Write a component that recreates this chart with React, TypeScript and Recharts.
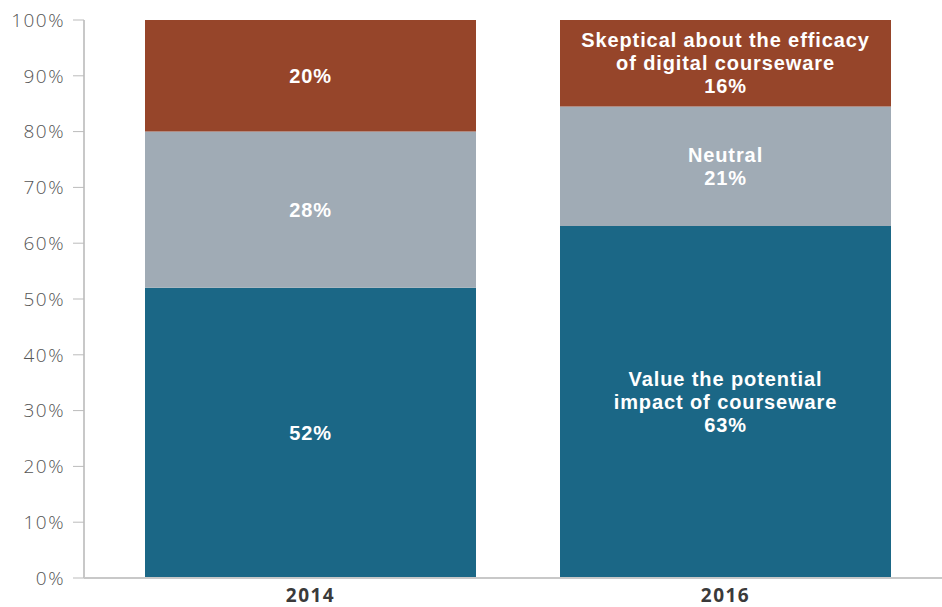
import { BarChart, Bar, XAxis, YAxis, LabelList } from "recharts";

const years = ["2014", "2016"];
const valueShares = [52, 63.1];
const neutralShares = [28, 21.4];
const skepticalShares = [20, 15.5];
const valueLabel = ["", "Value the potential|impact of courseware"];
const neutralLabel = ["", "Neutral"];
const skepticalLabel = ["", "Skeptical about the efficacy|of digital courseware"];
const yTicks = [0, 10, 20, 30, 40, 50, 60, 70, 80, 90, 100];

const data = years.map((y, i) => ({
  year: y,
  value: valueShares[i],
  neutral: neutralShares[i],
  skeptical: skepticalShares[i],
  valueText: valueLabel[i],
  neutralText: neutralLabel[i],
  skepticalText: skepticalLabel[i],
}));

const font = "'Open Sans', 'Liberation Sans', sans-serif";
const labelFont = "'Liberation Sans', Arial, sans-serif";

function makeLabel(textKey: string, valKey: string) {
  return (props: any) => {
    const { x, y, width, height, index } = props;
    const row: any = data[index];
    const head: string = row[textKey];
    const lines = (head ? head.split("|") : []).concat(`${Math.round(row[valKey])}%`);
    const lh = 23;
    const cx = x + width / 2;
    const cy = y + height / 2;
    const start = cy - ((lines.length - 1) * lh) / 2;
    return (
      <text textAnchor="middle" fill="#fff" fontFamily={labelFont} fontWeight={700} fontSize={20} letterSpacing={0.9}>
        {lines.map((l, k) => (
          <tspan key={k} x={cx} y={start + k * lh} dy="0.35em">{l}</tspan>
        ))}
      </text>
    );
  };
}

export default function App() {
  return (
    <div style={{ position: "absolute", left: 0, top: 0, background: "#fff" }}>
      <BarChart width={942} height={607} data={data} margin={{ top: 20, right: 0, bottom: 0, left: 0 }} barSize={331}>
        <XAxis dataKey="year" height={29} tickLine={false} axisLine={{ stroke: "#c8c8c8", strokeWidth: 2 }}
          padding={{ left: 19, right: 9 }} tickMargin={5}
          tick={{ fill: "#3a3a3a", fontSize: 19, fontWeight: 700, fontFamily: font, letterSpacing: 1.5 }} />
        <YAxis width={84} domain={[0, 100]} ticks={yTicks} interval={0} tickFormatter={(v) => `${v}%`}
          tickSize={11} tickMargin={8} axisLine={{ stroke: "#c8c8c8", strokeWidth: 2 }} tickLine={{ stroke: "#bbb" }}
          tick={{ fill: "#555", fontSize: 19, fontWeight: 300, fontFamily: font, letterSpacing: 1.5 }} />
        <Bar dataKey="value" stackId="a" fill="#1b6786" isAnimationActive={false}>
          <LabelList dataKey="value" content={makeLabel("valueText", "value")} />
        </Bar>
        <Bar dataKey="neutral" stackId="a" fill="#a0abb5" isAnimationActive={false}>
          <LabelList dataKey="neutral" content={makeLabel("neutralText", "neutral")} />
        </Bar>
        <Bar dataKey="skeptical" stackId="a" fill="#96452a" isAnimationActive={false}>
          <LabelList dataKey="skeptical" content={makeLabel("skepticalText", "skeptical")} />
        </Bar>
      </BarChart>
    </div>
  );
}
